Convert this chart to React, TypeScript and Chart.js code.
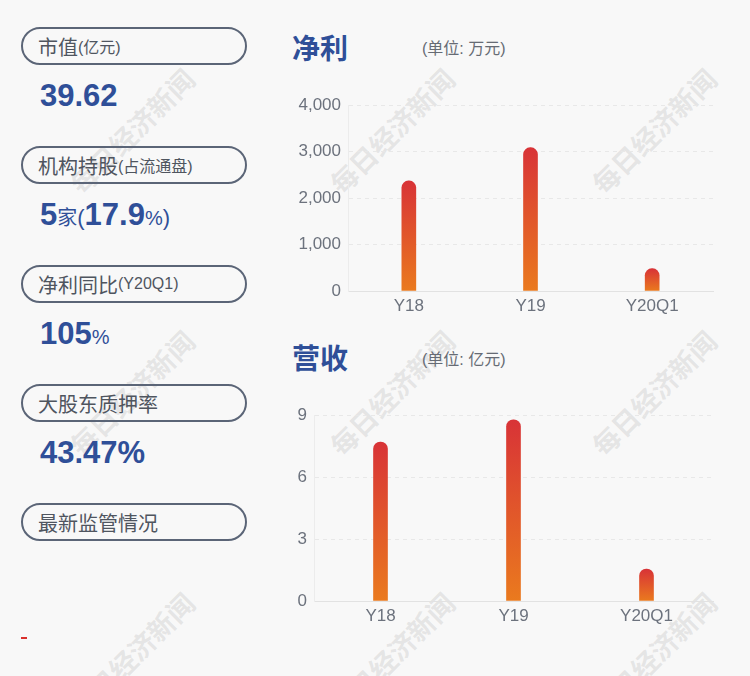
import React, { useEffect, useRef } from "react";
import { Chart, registerables } from "chart.js";

Chart.register(...registerables);

const categories = ["Y18", "Y19", "Y20Q1"];
const profitValues = [2370, 3085, 480];
const revenueValues = [7.7, 8.78, 1.55];
const profitTicks = [0, 1000, 2000, 3000, 4000];
const revenueTicks = [0, 3, 6, 9];

const BG = "#f8f8f8";
const BLUE = "#2f4f98";
const TICK = "#6c727d";
const LATIN = "'Liberation Sans', Arial, 'Noto Sans CJK SC', sans-serif";
const CJK = "'Liberation Sans', 'Noto Sans CJK SC', sans-serif";

type BarProps = {
  labels: string[];
  values: number[];
  ticks: number[];
  yWidth: number;
  left: number;
  top: number;
};

function BarChart({ labels, values, ticks, yWidth, left, top }: BarProps) {
  const ref = useRef<HTMLCanvasElement | null>(null);
  useEffect(() => {
    if (!ref.current) return;
    const max = ticks[ticks.length - 1];
    const step = ticks[1] - ticks[0];
    const chart = new Chart(ref.current, {
      type: "bar",
      data: {
        labels,
        datasets: [
          {
            data: values,
            barThickness: 14,
            borderRadius: { topLeft: 7, topRight: 7, bottomLeft: 0, bottomRight: 0 },
            borderSkipped: "bottom",
            backgroundColor: (c: any) => {
              const ch = c.chart;
              const ys = ch.scales && ch.scales.y;
              if (c.type !== "data" || !ys || !ch.chartArea) return "#e05a2a";
              const t = ys.getPixelForValue(c.raw);
              const b = ys.getPixelForValue(0);
              if (!isFinite(t) || !isFinite(b) || t === b) return "#e05a2a";
              const g = ch.ctx.createLinearGradient(0, t, 0, b);
              g.addColorStop(0, "#d83337");
              g.addColorStop(1, "#ea7a1e");
              return g;
            },
          },
        ],
      },
      options: {
        responsive: false,
        animation: false,
        devicePixelRatio: 1,
        layout: { padding: { top: 15, right: 7, bottom: 0, left: 0 } },
        plugins: { legend: { display: false }, tooltip: { enabled: false } },
        scales: {
          x: {
            grid: { display: false, drawTicks: false },
            border: { display: true, color: "#e2e2e2", width: 1 },
            ticks: { color: TICK, padding: 5, font: { family: LATIN, size: 17 } },
            afterFit: (s: any) => {
              s.height = 39;
            },
          },
          y: {
            min: 0,
            max,
            ticks: {
              stepSize: step,
              color: TICK,
              padding: 7,
              font: { family: LATIN, size: 17 },
              callback: (v: any) => Number(v).toLocaleString("en-US"),
            },
            grid: { color: "#e8e8e8", drawTicks: false, lineWidth: 1 },
            border: { display: true, color: "#ececec", dash: [4, 4] },
            afterFit: (s: any) => {
              s.width = yWidth;
            },
          },
        },
      },
    } as any);
    return () => chart.destroy();
  }, []);
  return (
    <canvas
      ref={ref}
      width={440}
      height={242}
      style={{ position: "absolute", left, top, width: 440, height: 242 }}
    />
  );
}

const watermarkCenters = [
  [132, 131],
  [392, 131],
  [654, 131],
  [132, 393],
  [392, 393],
  [654, 393],
  [132, 655],
  [392, 655],
  [654, 655],
];

function Box({ top, main, sub }: { top: number; main: string; sub?: string }) {
  return (
    <div
      style={{
        position: "absolute",
        left: 21,
        top,
        width: 226,
        height: 38,
        boxSizing: "border-box",
        border: "2px solid #5b6577",
        borderRadius: 20,
        paddingLeft: 15,
        display: "flex",
        alignItems: "center",
        fontFamily: CJK,
        color: "#4f555f",
        whiteSpace: "nowrap",
      }}
    >
      <span style={{ fontSize: 20 }}>{main}</span>
      {sub ? <span style={{ fontSize: 16 }}>{sub}</span> : null}
    </div>
  );
}

function Value({ top, children }: { top: number; children: React.ReactNode }) {
  return (
    <div
      style={{
        position: "absolute",
        left: 40,
        top: top - 18,
        height: 36,
        lineHeight: "36px",
        fontFamily: LATIN,
        color: BLUE,
        whiteSpace: "nowrap",
      }}
    >
      {children}
    </div>
  );
}

const big: React.CSSProperties = { fontSize: 31, fontWeight: "bold" };
const small: React.CSSProperties = { fontSize: 20 };

export default function App() {
  useEffect(() => {
    document.body.style.margin = "0";
    document.body.style.background = BG;
  }, []);
  return (
    <div
      style={{
        position: "absolute",
        left: 0,
        top: 0,
        width: 750,
        height: 676,
        background: BG,
        overflow: "hidden",
      }}
    >
      {watermarkCenters.map(([cx, cy], i) => (
        <div
          key={i}
          style={{
            position: "absolute",
            left: cx - 90,
            top: cy - 16,
            width: 180,
            height: 32,
            lineHeight: "32px",
            textAlign: "center",
            fontFamily: "'Noto Sans CJK SC', sans-serif",
            fontWeight: "bold",
            fontSize: 27,
            color: "rgba(150,150,150,0.2)",
            transform: "rotate(-45deg)",
            whiteSpace: "nowrap",
          }}
        >
          每日经济新闻
        </div>
      ))}

      <Box top={27} main="市值" sub="(亿元)" />
      <Value top={96}>
        <span style={big}>39.62</span>
      </Value>
      <Box top={146} main="机构持股" sub="(占流通盘)" />
      <Value top={215}>
        <span style={big}>5</span>
        <span style={{ fontSize: 20, fontFamily: CJK }}>家</span>
        <span style={{ fontSize: 22 }}>(</span>
        <span style={big}>17.9</span>
        <span style={small}>%</span>
        <span style={{ fontSize: 22 }}>)</span>
      </Value>
      <Box top={265} main="净利同比" sub="(Y20Q1)" />
      <Value top={334}>
        <span style={big}>105</span>
        <span style={small}>%</span>
      </Value>
      <Box top={384} main="大股东质押率" />
      <Value top={453}>
        <span style={big}>43.47%</span>
      </Value>
      <Box top={503} main="最新监管情况" />
      <div
        style={{
          position: "absolute",
          left: 21,
          top: 637,
          width: 6,
          height: 2,
          background: "#d9302c",
        }}
      />

      <div
        style={{
          position: "absolute",
          left: 292,
          top: 34,
          height: 32,
          lineHeight: "32px",
          fontFamily: CJK,
          fontWeight: "bold",
          fontSize: 28,
          color: BLUE,
        }}
      >
        净利
      </div>
      <div
        style={{
          position: "absolute",
          left: 422,
          top: 39,
          height: 20,
          lineHeight: "20px",
          fontFamily: CJK,
          fontSize: 16,
          color: "#666b74",
        }}
      >
        (单位: 万元)
      </div>
      <BarChart
        labels={categories}
        values={profitValues}
        ticks={profitTicks}
        yWidth={68}
        left={280}
        top={88}
      />

      <div
        style={{
          position: "absolute",
          left: 292,
          top: 344,
          height: 32,
          lineHeight: "32px",
          fontFamily: CJK,
          fontWeight: "bold",
          fontSize: 28,
          color: BLUE,
        }}
      >
        营收
      </div>
      <div
        style={{
          position: "absolute",
          left: 422,
          top: 350,
          height: 20,
          lineHeight: "20px",
          fontFamily: CJK,
          fontSize: 16,
          color: "#666b74",
        }}
      >
        (单位: 亿元)
      </div>
      <BarChart
        labels={categories}
        values={revenueValues}
        ticks={revenueTicks}
        yWidth={34}
        left={280}
        top={398}
      />
    </div>
  );
}
